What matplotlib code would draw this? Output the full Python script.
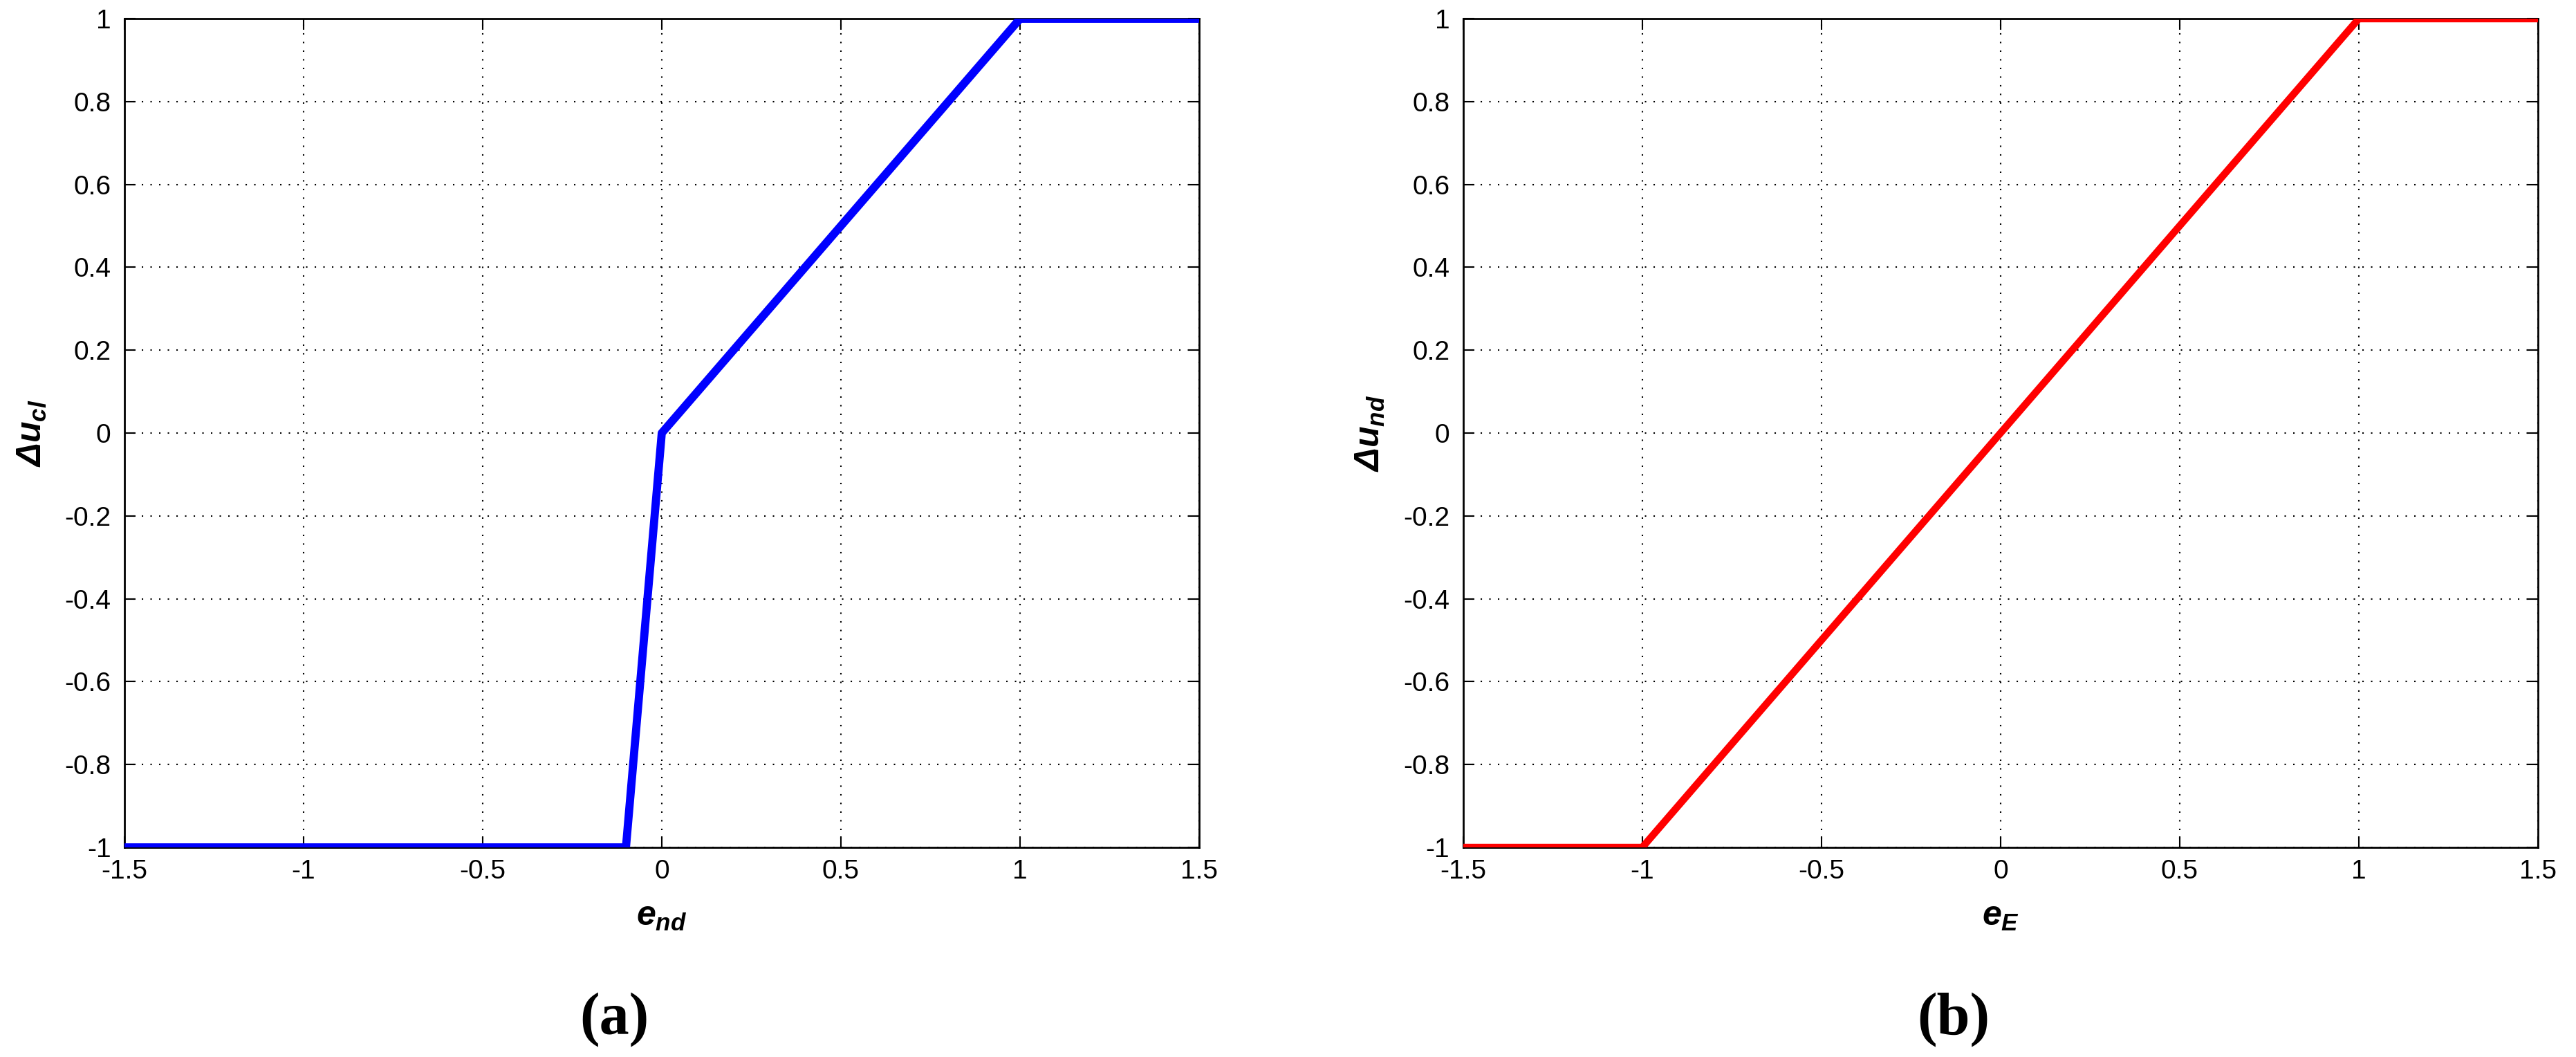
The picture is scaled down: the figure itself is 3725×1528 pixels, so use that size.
import numpy as np
import matplotlib
matplotlib.use("Agg")
import matplotlib.pyplot as plt
import matplotlib.ticker as ticker

# Piecewise-linear characteristics
e_nd = [-1.5, -0.1, 0.0, 1.0, 1.5]
du_cl = [-1.0, -1.0, 0.0, 1.0, 1.0]

e_E = [-1.5, -1.0, 1.0, 1.5]
du_nd = [-1.0, -1.0, 1.0, 1.0]

x_ticks = [-1.5, -1, -0.5, 0, 0.5, 1, 1.5]
y_ticks = [-1, -0.8, -0.6, -0.4, -0.2, 0, 0.2, 0.4, 0.6, 0.8, 1]

plt.rcParams["font.family"] = ["Liberation Sans", "DejaVu Sans"]
plt.rcParams["mathtext.fontset"] = "custom"
plt.rcParams["mathtext.it"] = "Liberation Sans:bold:italic"
plt.rcParams["mathtext.rm"] = "Liberation Sans:bold:italic"
plt.rcParams["mathtext.bf"] = "Liberation Sans:bold"

BLUE = "#0000ff"
RED = "#ff0000"

fig = plt.figure(figsize=(37.25, 15.28), dpi=100)
ax1 = fig.add_axes([0.0483, 0.1983, 0.4172, 0.7840])
ax2 = fig.add_axes([0.5680, 0.1983, 0.4172, 0.7840])

panels = [
    (ax1, e_nd, du_cl, BLUE, 8.5, r"$e_{nd}$", r"$Δu_{cl}$", "(a)"),
    (ax2, e_E, du_nd, RED, 7.5, r"$e_{E}$", r"$Δu_{nd}$", "(b)"),
]

for ax, xs, ys, color, lw, xlab, ylab, tag in panels:
    ax.plot(xs, ys, color=color, linewidth=lw, zorder=3)

    ax.set_xlim(-1.5, 1.5)
    ax.set_ylim(-1, 1)
    ax.set_xticks(x_ticks)
    ax.set_yticks(y_ticks)
    ax.xaxis.set_major_formatter(ticker.FormatStrFormatter("%g"))
    ax.yaxis.set_major_formatter(ticker.FormatStrFormatter("%g"))

    ax.grid(True, color="black", linestyle=(0, (1, 5)), linewidth=1.5)
    ax.tick_params(direction="in", length=11.5, width=1.5, labelsize=28,
                   top=True, right=True)
    ax.tick_params(axis="x", pad=12)
    ax.tick_params(axis="y", pad=14)
    for sp in ax.spines.values():
        sp.set_linewidth(2)

    ax.set_xlabel(xlab, fontsize=36)
    ax.xaxis.set_label_coords(0.5, -0.064)
    ax.set_ylabel(ylab, fontsize=36)
    ax.yaxis.set_label_coords(-0.071, 0.5)

    box = ax.get_position()
    fig.text(box.x0 + box.width * 0.456, 0.0353, tag, fontsize=62,
             fontweight="bold", family="Liberation Serif",
             ha="center", va="center")

fig.savefig("out.png", dpi=100)
